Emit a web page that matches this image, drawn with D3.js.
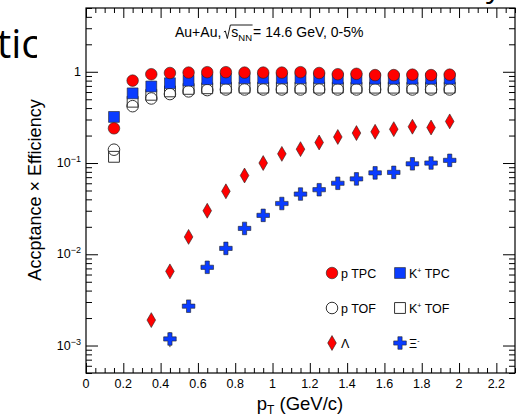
<!DOCTYPE html>
<html><head><meta charset="utf-8">
<script src="https://cdn.jsdelivr.net/npm/d3@7"></script>
<style>
body{margin:0;background:#fff}
svg{display:block}
text{font-family:"Liberation Sans",Arial,Helvetica,sans-serif;fill:#000}
</style>
</head><body>
<svg id="c" width="518" height="416"></svg>
<script>
// ---------------- data ----------------
const ptBins = [0.15,0.25,0.35,0.45,0.55,0.65,0.75,0.85,0.95,1.05,1.15,1.25,1.35,1.45,1.55,1.65,1.75,1.85,1.95];
const pTPC = [0.24,0.80,0.94,0.97,0.98,0.99,0.99,0.98,0.98,0.98,0.99,0.97,0.94,0.95,0.92,0.92,0.93,0.92,0.93];
const kTPC = [0.32,0.58,0.69,0.75,0.80,0.83,0.84,0.85,0.85,0.85,0.85,0.85,0.84,0.84,0.84,0.84,0.84,0.84,0.84];
const pTOF = [0.14,0.42,0.51,0.57,0.61,0.63,0.64,0.64,0.64,0.64,0.64,0.64,0.64,0.64,0.64,0.64,0.64,0.64,0.64];
const kTOF = [0.117,0.47,0.56,0.61,0.65,0.66,0.67,0.67,0.67,0.67,0.67,0.67,0.67,0.67,0.67,0.67,0.67,0.67,0.67];
const lamPt = [0.35,0.45,0.55,0.65,0.75,0.85,0.95,1.05,1.15,1.25,1.35,1.45,1.55,1.65,1.75,1.85,1.95];
const lamEff = [0.0019,0.0065,0.0155,0.030,0.049,0.073,0.100,0.126,0.142,0.168,0.193,0.213,0.220,0.235,0.250,0.245,0.286];
const xiPt = [0.45,0.55,0.65,0.75,0.85,0.95,1.05,1.15,1.25,1.35,1.45,1.55,1.65,1.75,1.85,1.95];
const xiEff = [0.00118,0.0027,0.0072,0.0116,0.0192,0.0267,0.036,0.0457,0.051,0.060,0.067,0.078,0.079,0.098,0.100,0.107];
const xiErr = [0.00022,0,0,0,0,0,0,0,0,0,0,0,0,0,0,0];
const xTickValues = [0,0.2,0.4,0.6,0.8,1,1.2,1.4,1.6,1.8,2,2.2];
const xTickLabels = ["0","0.2","0.4","0.6","0.8","1","1.2","1.4","1.6","1.8","2","2.2"];
const yTickValues = [0.001,0.01,0.1,1];
const yTickExps = ["\u22123","\u22122","\u22121",""];
const legendLabels = ["p TPC","K+ TPC","p TOF","K+ TOF","\u039B","\u039E-"];

// ---------------- layout ----------------
const L=86,R=515,T=8,B=373;
const svg=d3.select("#c");
const x=d3.scaleLinear().domain([0,2.3]).range([L,R]);
const y=d3.scaleLog().domain([5e-4,5]).range([B,T]);

const RED="#ff0000", BLUE="#0a3cff";

// slide fragments (clipped text behind the plot)
svg.append("defs").append("clipPath").attr("id","lc").append("rect").attr("x",0).attr("y",0).attr("width",37).attr("height",80);
svg.append("text").attr("x",-3).attr("y",58).attr("font-size",40).attr("clip-path","url(#lc)")
  .style("font-family","'Open Sans',sans-serif").text("tic");
svg.append("text").attr("x",486).attr("y",-3).attr("font-size",30)
  .style("font-family","'Open Sans',sans-serif").text("y");

// ---------------- axes ----------------
const minorX=d3.range(0,2.3001,0.05).filter(v=>Math.abs(v/0.2-Math.round(v/0.2))>1e-6);
const minorY=[];
[-4,-3,-2,-1,0].forEach(e=>{for(let k=2;k<=9;k++){const v=k*Math.pow(10,e);if(v>=5e-4&&v<=5.0001)minorY.push(v);}});

function styleAxis(g){g.select(".domain").remove();g.selectAll("line").attr("stroke","#000").attr("stroke-width",1);g.selectAll("text").remove();}
svg.append("g").attr("transform",`translate(0,${B})`).call(d3.axisBottom(x).tickValues(xTickValues).tickSize(-10)).call(styleAxis);
svg.append("g").attr("transform",`translate(0,${B})`).call(d3.axisBottom(x).tickValues(minorX).tickSize(-5)).call(styleAxis);
svg.append("g").attr("transform",`translate(0,${T})`).call(d3.axisTop(x).tickValues(xTickValues).tickSize(-10)).call(styleAxis);
svg.append("g").attr("transform",`translate(0,${T})`).call(d3.axisTop(x).tickValues(minorX).tickSize(-5)).call(styleAxis);
svg.append("g").attr("transform",`translate(${L},0)`).call(d3.axisLeft(y).tickValues(yTickValues).tickSize(-12)).call(styleAxis);
svg.append("g").attr("transform",`translate(${L},0)`).call(d3.axisLeft(y).tickValues(minorY).tickSize(-6)).call(styleAxis);
svg.append("g").attr("transform",`translate(${R},0)`).call(d3.axisRight(y).tickValues(yTickValues).tickSize(-12)).call(styleAxis);
svg.append("g").attr("transform",`translate(${R},0)`).call(d3.axisRight(y).tickValues(minorY).tickSize(-6)).call(styleAxis);
svg.append("rect").attr("x",L).attr("y",T).attr("width",R-L).attr("height",B-T).attr("fill","none").attr("stroke","#000").attr("stroke-width",1.2);

// x tick labels
svg.append("g").selectAll("text").data(xTickValues).join("text")
  .attr("x",(d)=>x(d)).attr("y",B+15).attr("text-anchor","middle").attr("font-size",12.5)
  .text((d,i)=>xTickLabels[i]);
// y tick labels
yTickValues.forEach((v,i)=>{
  const t=svg.append("text").attr("x",L-5).attr("y",y(v)+4).attr("text-anchor","end").attr("font-size",12.5);
  if(yTickExps[i]===""){t.text("1");}
  else{t.append("tspan").text("10");t.append("tspan").attr("dy",-5).attr("font-size",9).text(yTickExps[i]);}
});
// axis titles
svg.append("text").attr("transform",`translate(41,190) rotate(-90)`).attr("text-anchor","middle").attr("font-size",18)
  .text("Accptance \u00D7 Efficiency");
const xt=svg.append("text").attr("x",300).attr("y",410).attr("text-anchor","middle").attr("font-size",18.5);
xt.append("tspan").text("p");xt.append("tspan").attr("dy",4).attr("font-size",12).text("T");xt.append("tspan").attr("dy",-4).text(" (GeV/c)");

// annotation
(function(){
  const g=svg.append("g");
  let cx=175; const by=37, fs=14;
  function piece(str,size,dy){const t=g.append("text").attr("x",cx).attr("y",by+dy).attr("font-size",size).text(str);const w=t.node().getComputedTextLength();const x0=cx;cx+=w;return [x0,cx];}
  piece("Au+Au, ",fs,0);
  cx+=2;
  const r0=cx;
  // radical sign
  g.append("path").attr("d",`M${r0+0.5},${by-5} L${r0+2},${by-6} L${r0+4},${by+1.5} L${r0+7},${by-12}`).attr("fill","none").attr("stroke","#000").attr("stroke-width",0.9);
  cx+=8;
  piece("s",fs,0);
  piece("NN",9.5,3.5);
  g.append("line").attr("x1",r0+7).attr("x2",cx+0.5).attr("y1",by-12).attr("y2",by-12).attr("stroke","#000").attr("stroke-width",0.9);
  cx+=1;
  piece(" = 14.6 GeV, 0-5%",fs,0);
})();

// ---------------- marks ----------------
const sym=(type,size)=>d3.symbol().type(type).size(size)();
function series(xs,ys,path,fill,stroke,sw){
  svg.append("g").selectAll("path").data(ys).join("path")
    .attr("transform",(d,i)=>`translate(${x(xs[i])},${y(d)})`)
    .attr("d",path).attr("fill",fill).attr("stroke",stroke).attr("stroke-width",sw);
}
const SQ=sym(d3.symbolSquare,118), CI=sym(d3.symbolCircle,105), DI=sym(d3.symbolDiamond,64), CR=sym(d3.symbolCross,88);
series(ptBins,kTOF,SQ,"none","#333",1);
series(ptBins,pTOF,CI,"none","#333",1);
series(ptBins,kTPC,SQ,BLUE,"#222",0.6);
series(ptBins,pTPC,CI,RED,"#222",0.6);
// error bars for Xi
svg.append("g").selectAll("line").data(xiEff.map((v,i)=>[xiPt[i],v,xiErr[i]]).filter(d=>d[2]>0)).join("line")
  .attr("x1",d=>x(d[0])).attr("x2",d=>x(d[0])).attr("y1",d=>y(d[1]-d[2])).attr("y2",d=>y(d[1]+d[2])).attr("stroke","#333").attr("stroke-width",1);
series(lamPt,lamEff,DI,RED,"#222",0.6);
series(xiPt,xiEff,CR,BLUE,"#222",0.6);

// ---------------- legend ----------------
const legX=[332,400], legY=[273,308,343];
const legSyms=[[CI,RED,"#222",0.6],[SQ,BLUE,"#222",0.6],[CI,"none","#333",1],[SQ,"none","#333",1],[DI,RED,"#222",0.6],[CR,BLUE,"#222",0.6]];
legendLabels.forEach((lab,i)=>{
  const cx=legX[i%2], cy=legY[Math.floor(i/2)];
  const s=legSyms[i];
  svg.append("path").attr("transform",`translate(${cx},${cy})`).attr("d",s[0]).attr("fill",s[1]).attr("stroke",s[2]).attr("stroke-width",s[3]);
  const t=svg.append("text").attr("x",cx+9).attr("y",cy+4.5).attr("font-size",12.5);
  if(lab.startsWith("K+")){t.append("tspan").text("K");t.append("tspan").attr("dy",-5).attr("font-size",7).text("+");t.append("tspan").attr("dy",5).text(lab.slice(2));}
  else if(lab.endsWith("-")&&lab.length===2){t.append("tspan").text(lab[0]);t.append("tspan").attr("dy",-5).attr("font-size",7).text("-");}
  else t.text(lab);
});
</script>
</body></html>
